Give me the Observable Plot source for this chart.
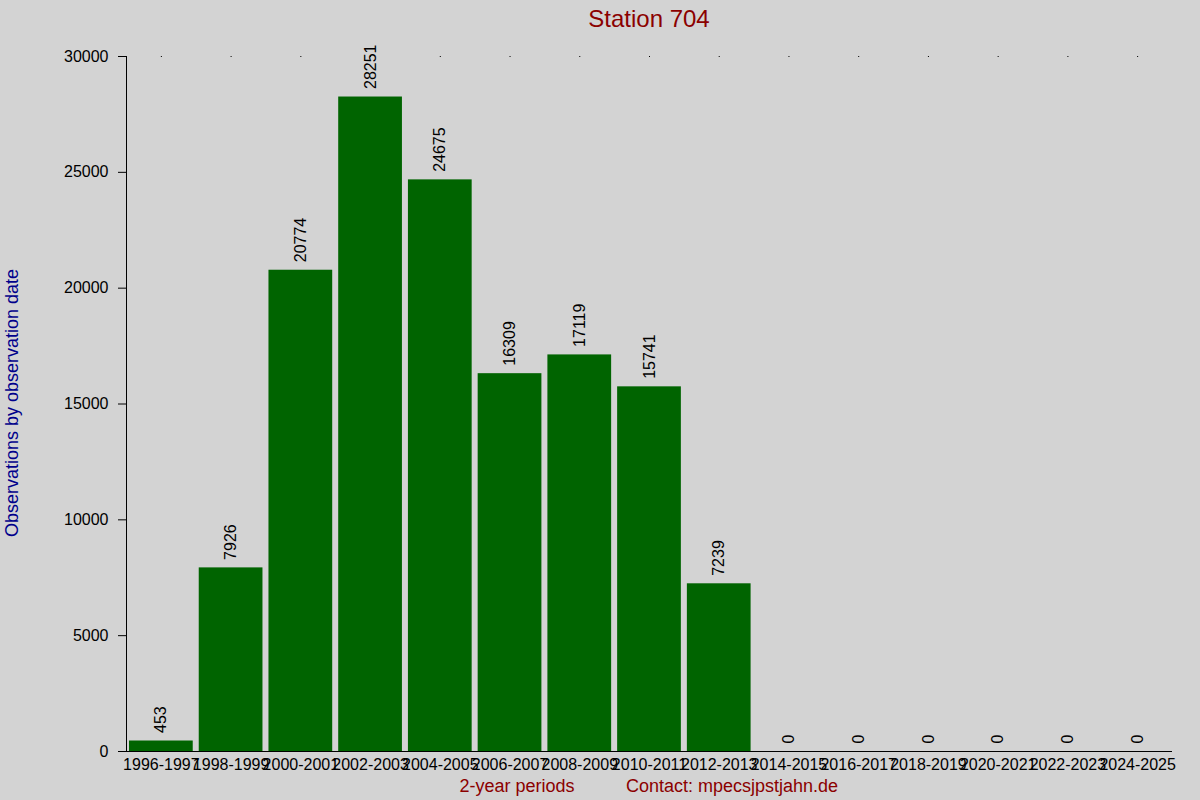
<!DOCTYPE html>
<html>
<head>
<meta charset="utf-8">
<script src="https://cdn.jsdelivr.net/npm/d3@7"></script>
<script src="https://cdn.jsdelivr.net/npm/@observablehq/plot@0.6"></script>
<style>
  html, body { margin: 0; padding: 0; background: #d3d3d3; }
  body { position: relative; width: 1200px; height: 800px; overflow: hidden; font-family: "Liberation Sans", Arial, sans-serif; }
  #chart { position: absolute; left: 0; top: 0; }
  .lbl { position: absolute; white-space: nowrap; font-family: "Liberation Sans", Arial, sans-serif; }
  #title { left: 0; width: 1298px; top: 5px; text-align: center; font-size: 24px; color: #8b0000; }
  #ylab { left: 12px; top: 403px; font-size: 18px; color: #00008b; transform: translate(-50%, -50%) rotate(-90deg); }
  #xlab { left: 517px; top: 786px; font-size: 18px; color: #8b0000; transform: translate(-50%, -50%); }
  #contact { left: 732px; top: 786px; font-size: 18px; color: #8b0000; transform: translate(-50%, -50%); }
</style>
</head>
<body>
<div id="chart"></div>
<div id="title" class="lbl">Station 704</div>
<div id="ylab" class="lbl">Observations by observation date</div>
<div id="xlab" class="lbl">2-year periods</div>
<div id="contact" class="lbl">Contact: mpecsjpstjahn.de</div>
<script>
const periods = ["1996-1997","1998-1999","2000-2001","2002-2003","2004-2005","2006-2007","2008-2009","2010-2011","2012-2013","2014-2015","2016-2017","2018-2019","2020-2021","2022-2023","2024-2025"];
const counts = [453, 7926, 20774, 28251, 24675, 16309, 17119, 15741, 7239, 0, 0, 0, 0, 0, 0];
const yTicks = [0, 5000, 10000, 15000, 20000, 25000, 30000];

const data = periods.map((p, i) => ({period: p, value: counts[i]}));

const chart = Plot.plot({
  width: 1200,
  height: 800,
  marginTop: 56,
  marginBottom: 49,
  marginLeft: 126,
  marginRight: 28,
  style: {background: "transparent", fontSize: "16px", fontFamily: "'Liberation Sans', Arial, sans-serif", color: "#000"},
  x: {domain: periods, paddingInner: 0.086, paddingOuter: 0.043, round: false},
  y: {domain: [0, 30000]},
  marks: [
    Plot.barY(data, {x: "period", y: "value", fill: "#006400"}),
    Plot.text(data, {x: "period", y: "value", text: d => String(d.value), rotate: -90, textAnchor: "start", lineAnchor: "middle", dy: -8, fill: "#000", fontSize: 16}),
    Plot.frame({anchor: "left", stroke: "#000"}),
    Plot.ruleY([0], {stroke: "#000", insetLeft: -8}),
    Plot.axisY({ticks: yTicks, tickSize: 8, tickPadding: 10, tickFormat: d => String(d), label: null, fontSize: 16}),
    Plot.axisX({anchor: "bottom", tickSize: 0, tickPadding: 7, label: null, fontSize: 16}),
    Plot.axisX({anchor: "top", tickSize: 1, tickFormat: () => "", label: null})
  ]
});
document.getElementById("chart").appendChild(chart);
</script>
</body>
</html>
